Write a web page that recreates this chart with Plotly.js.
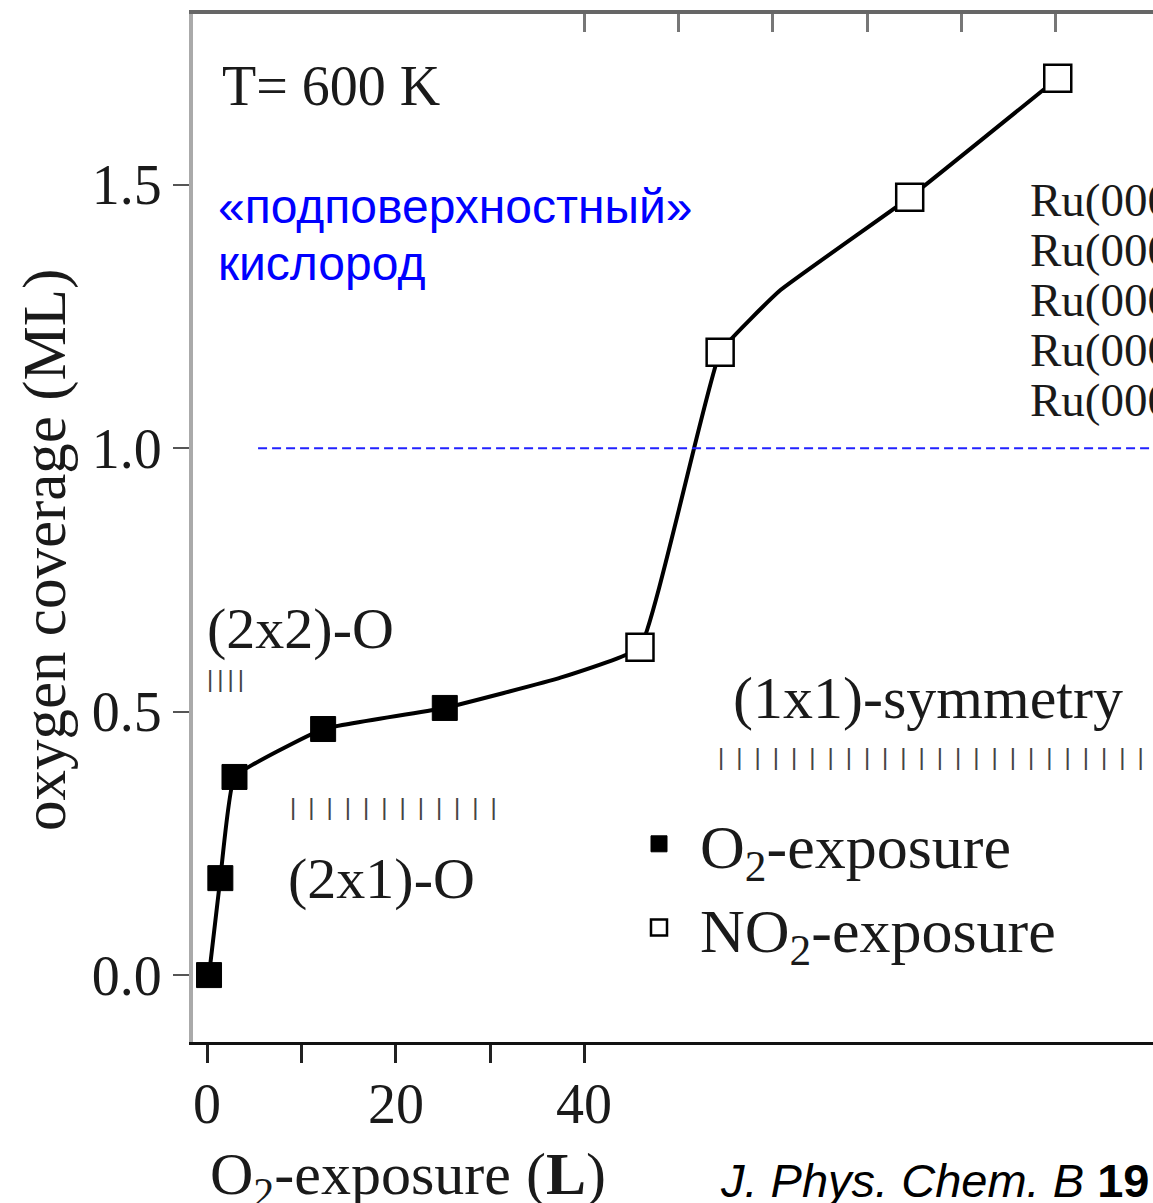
<!DOCTYPE html>
<html>
<head>
<meta charset="utf-8">
<script src="https://cdn.plot.ly/plotly-3.0.1.min.js"></script>
<style>html,body{margin:0;padding:0;background:#fff;overflow:hidden}</style>
</head>
<body>
<div id="chart" style="width:1153px;height:1203px"></div>
<script>
// O2-exposure points (filled squares)
const o2X = [0.2, 1.4, 2.9, 12.3, 25.2];
const o2Y = [0.0, 0.184, 0.376, 0.467, 0.507];
// NO2-exposure points (open squares)
const no2X = [45.9, 54.4, 74.5, 90.2];
const no2Y = [0.622, 1.182, 1.476, 1.702];
// guide curve through the measurements
const curveX = [0.2, 1.4, 2.9, 12.3, 25.2, 37.4, 45.9, 54.4, 60.8, 74.5, 90.2];
const curveY = [0.0, 0.184, 0.376, 0.467, 0.507, 0.564, 0.622, 1.182, 1.30, 1.476, 1.702];
// axis ticks
const xTickVals = [0, 10, 20, 30, 40];
const xTickText = ['0', '', '20', '', '40'];
const topTickVals = [40, 50, 60, 70, 80, 90];
const yTickVals = [0, 0.5, 1.0, 1.5];
const yTickText = ['0.0', '0.5', '1.0', '1.5'];
const ruLabels = ['Ru(0001)', 'Ru(0001)', 'Ru(0001)', 'Ru(0001)', 'Ru(0001)'];
const subsurfaceLevel = 1.0;

const serif = 'Liberation Serif, Times New Roman, serif';
const sans = 'Liberation Sans, Arial, sans-serif';
const px = x => (x - 193) / 960;
const py = y => (1042 - y) / 1028;

const traces = [
  {x: curveX, y: curveY, mode: 'lines', type: 'scatter',
   line: {color: '#000', width: 4, shape: 'spline', smoothing: 0.3},
   showlegend: false, hoverinfo: 'skip'},
  {x: o2X, y: o2Y, mode: 'markers', type: 'scatter', name: 'O<sub>2</sub>-exposure',
   marker: {symbol: 'square', size: 25, color: '#000', line: {color: '#000', width: 1}}},
  {x: no2X, y: no2Y, mode: 'markers', type: 'scatter', name: 'NO<sub>2</sub>-exposure',
   marker: {symbol: 'square', size: 27, color: '#fff', line: {color: '#000', width: 2.5}}},
  {x: [40], y: [0], xaxis: 'x2', mode: 'markers', marker: {opacity: 0}, showlegend: false, hoverinfo: 'skip'}
];

const annotations = [
  {text: 'T= 600 K', x: 220, y: 86, size: 56},
  {text: '(2x2)-O', x: 205, y: 628, size: 58},
  {text: '(2x1)-O', x: 286, y: 878, size: 58},
  {text: '(1x1)-symmetry', x: 731, y: 698, size: 60},
].map(a => ({
  text: a.text, xref: 'paper', yref: 'paper', showarrow: false,
  x: px(a.x), y: py(a.y), xanchor: 'left', yanchor: 'middle',
  font: {family: serif, size: a.size, color: '#1a1a1a'}
}));

// x tick labels
xTickVals.forEach((v, i) => {
  if (!xTickText[i]) return;
  annotations.push({text: xTickText[i], xref: 'x', yref: 'paper', x: v, y: py(1104),
    xanchor: 'center', yanchor: 'middle', showarrow: false,
    font: {family: serif, size: 56, color: '#1a1a1a'}});
});

ruLabels.forEach((t, i) => {
  const yy = 200 + i * 50;
  annotations.push({text: t, xref: 'paper', yref: 'paper', showarrow: false,
    x: px(1028), y: py(yy), xanchor: 'left', yanchor: 'middle',
    font: {family: serif, size: 47, color: '#1a1a1a'}});
});

// hatch-mark rows (structure ranges)
const hatch = [
  {text: Array(4).fill('|').join('\u2006'), x: 205, y: 679},
  {text: Array(12).fill('|').join('\u2002'), x: 288, y: 806},
  {text: Array(24).fill('|').join('\u2002'), x: 716, y: 756}
];
hatch.forEach(h => annotations.push({text: h.text, xref: 'paper', yref: 'paper', showarrow: false,
  x: px(h.x), y: py(h.y), xanchor: 'left', yanchor: 'middle',
  font: {family: sans, size: 24, color: '#444'}}));

annotations.push({text: '«подповерхностный»', xref: 'paper', yref: 'paper', showarrow: false,
  x: px(216), y: py(206), xanchor: 'left', yanchor: 'middle',
  font: {family: sans, size: 48, color: '#0000ff'}});
annotations.push({text: 'кислород', xref: 'paper', yref: 'paper', showarrow: false,
  x: px(216), y: py(263), xanchor: 'left', yanchor: 'middle',
  font: {family: sans, size: 48, color: '#0000ff'}});

annotations.push({text: 'O<sub>2</sub>-exposure (<b>L</b>)', xref: 'paper', yref: 'paper', showarrow: false,
  x: px(408), y: py(1178), xanchor: 'center', yanchor: 'middle',
  font: {family: serif, size: 60, color: '#1a1a1a'}});

annotations.push({text: 'oxygen coverage (ML)', xref: 'paper', yref: 'paper', showarrow: false, textangle: -90,
  x: px(45), y: py(550), xanchor: 'center', yanchor: 'middle',
  font: {family: serif, size: 61, color: '#1a1a1a'}});

annotations.push({text: '<i>J. Phys. Chem. B</i> <b>19</b>', xref: 'paper', yref: 'paper', showarrow: false,
  x: px(718), y: py(1180), xanchor: 'left', yanchor: 'middle',
  font: {family: sans, size: 47, color: '#000'}});

const layout = {
  width: 1153, height: 1203,
  margin: {l: 193, r: 0, t: 14, b: 161},
  paper_bgcolor: '#fff', plot_bgcolor: '#fff',
  showlegend: true,
  legend: {x: px(618), y: py(797), xanchor: 'left', yanchor: 'top',
    bgcolor: 'rgba(0,0,0,0)', font: {family: serif, size: 62, color: '#1a1a1a'},
    itemwidth: 72, tracegroupgap: 0},
  xaxis: {range: [-1.5, 100.3], tickvals: xTickVals, ticktext: xTickText,
    ticks: 'outside', ticklen: 18, tickwidth: 3, tickcolor: '#222',
    showline: true, linecolor: '#111', linewidth: 3, showgrid: false, zeroline: false,
    showticklabels: false},
  xaxis2: {range: [-1.5, 100.3], overlaying: 'x', side: 'top', tickvals: topTickVals,
    ticks: 'inside', ticklen: 18, tickwidth: 3, tickcolor: '#777', showticklabels: false,
    showline: true, linecolor: '#666', linewidth: 4, showgrid: false, zeroline: false},
  yaxis: {range: [-0.127, 1.824], tickvals: yTickVals, ticktext: yTickText,
    ticks: 'outside', ticklen: 16, tickwidth: 2, tickcolor: '#555',
    showline: true, linecolor: '#aaa', linewidth: 4, showgrid: false, zeroline: false,
    tickfont: {family: serif, size: 56, color: '#1a1a1a'}},
  shapes: [
    {type: 'line', xref: 'x', yref: 'y', x0: 5.4, x1: 100.3, y0: subsurfaceLevel, y1: subsurfaceLevel,
     line: {color: '#2222ff', width: 2, dash: '9px,5px'}}
  ],
  annotations: annotations
};

Plotly.newPlot('chart', traces, layout, {displayModeBar: false, staticPlot: true});
</script>
</body>
</html>
